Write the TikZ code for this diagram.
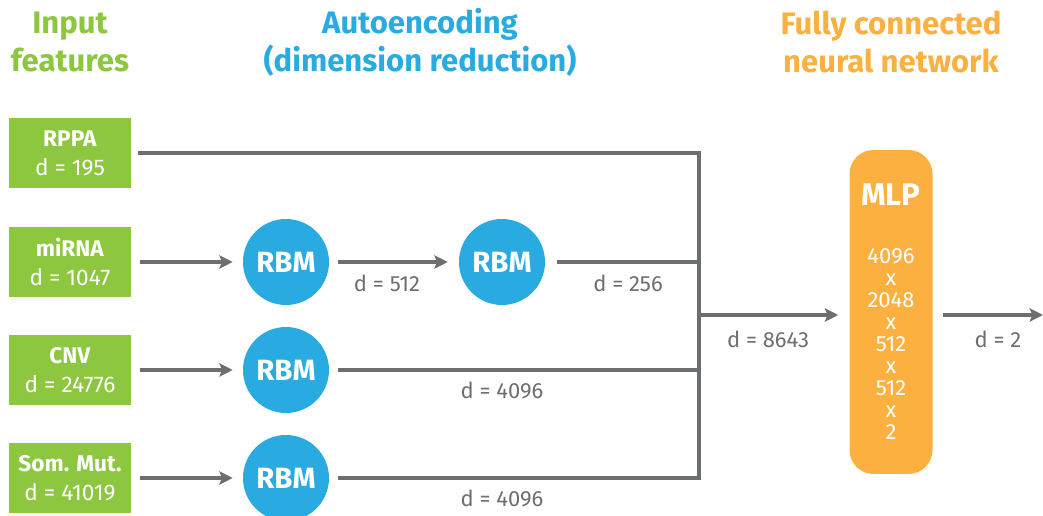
\documentclass[tikz,border=0pt]{standalone}
\usepackage{fontspec}
\setmainfont{Fira Sans}
\usetikzlibrary{arrows.meta,calc}
\definecolor{fgreen}{HTML}{8DC63F}
\definecolor{fblue}{HTML}{29ABE2}
\definecolor{forange}{HTML}{FBB040}
\definecolor{fgray}{HTML}{6D6E71}
\begin{document}
\begin{tikzpicture}[x=0.75pt,y=-0.75pt,
  inbox/.style={fill=fgreen, text=white, minimum width=91.5pt, minimum height=52.5pt, inner sep=0pt, align=center, font=\fontsize{17}{21.75}\selectfont},
  rbm/.style={circle, fill=fblue, text=white, minimum size=64.5pt, inner sep=0pt, font=\bfseries\fontsize{22}{24}\selectfont},
  mlpbox/.style={fill=forange, rounded corners=18pt, minimum width=62.25pt, minimum height=243pt, inner sep=0pt},
  mlptext/.style={text=white, align=center, font=\fontsize{16.5}{16.5}\selectfont},
  conn/.style={draw=fgray, line width=3pt},
  arr/.style={conn, -{Stealth[length=10pt,width=10pt,inset=2pt]}},
  lbl/.style={text=fgray, font=\fontsize{16.5}{18}\selectfont},
  title/.style={align=center, font=\bfseries\fontsize{23.3}{28.5}\selectfont}]
\useasboundingbox (0,0) rectangle (1043,516);

% titles
\node[title, text=fgreen] (t1) at (70,42) {Input\\features};
\node[title, text=fblue] (t2) at (420,42) {Autoencoding\\(dimension reduction)};
\node[title, text=forange] (t3) at (891,42) {Fully connected\\neural network};

% input boxes
\node[inbox] (rppa) at (70,153) {\textbf{RPPA}\\d = 195};
\node[inbox] (mirna) at (70,262) {\textbf{miRNA}\\d = 1047};
\node[inbox] (cnv) at (70,370) {\textbf{CNV}\\d = 24776};
\node[inbox] (som) at (70,478) {\textbf{Som. Mut.}\\d = 41019};

% RBMs
\node[rbm] (r1) at (286,262) {RBM};
\node[rbm] (r2) at (502,262) {RBM};
\node[rbm] (r3) at (286,370) {RBM};
\node[rbm] (r4) at (286,478) {RBM};

% MLP
\node[mlpbox] (mlp) at (891,312) {};
\node[mlptext, font=\bfseries\fontsize{23.5}{26}\selectfont] (mlpt) at (891,195) {MLP};
\node[mlptext] (mlpn) at (891,344.5) {4096\\x\\2048\\x\\512\\x\\512\\x\\2};

% junction coordinates
\coordinate (jt) at (699,153);
\coordinate (j2) at (699,262);
\coordinate (j3) at (699,370);
\coordinate (jb) at (699,478);
\coordinate (jm) at (699,315);
\coordinate (out) at (1043,315);

% connectors
\draw[conn] ($(rppa.east)+(7,0)$) -- (jt) -- (jb) -- ($(r4.east)+(9,0)$);
\draw[arr] ($(mirna.east)+(9,0)$) -- ($(r1.west)-(10,0)$);
\draw[arr] ($(r1.east)+(9,0)$) -- ($(r2.west)-(11,0)$);
\draw[conn] ($(r2.east)+(12,0)$) -- (j2);
\draw[arr] ($(cnv.east)+(9,0)$) -- ($(r3.west)-(10,0)$);
\draw[conn] ($(r3.east)+(9,0)$) -- (j3);
\draw[arr] ($(som.east)+(9,0)$) -- ($(r4.west)-(10,0)$);
\draw[arr] (jm) -- ($(mlp.west |- jm)-(11,0)$);
\draw[arr] ($(mlp.east |- jm)+(10,0)$) -- (out);

% labels
\node[lbl] (l1) at (387,283) {d = 512};
\node[lbl] (l2) at (628,283) {d = 256};
\node[lbl] (l3) at (502,390) {d = 4096};
\node[lbl] (l4) at (502,498) {d = 4096};
\node[lbl] (l5) at (768,339) {d = 8643};
\node[lbl] (l6) at (998,339) {d = 2};
\end{tikzpicture}
\end{document}
